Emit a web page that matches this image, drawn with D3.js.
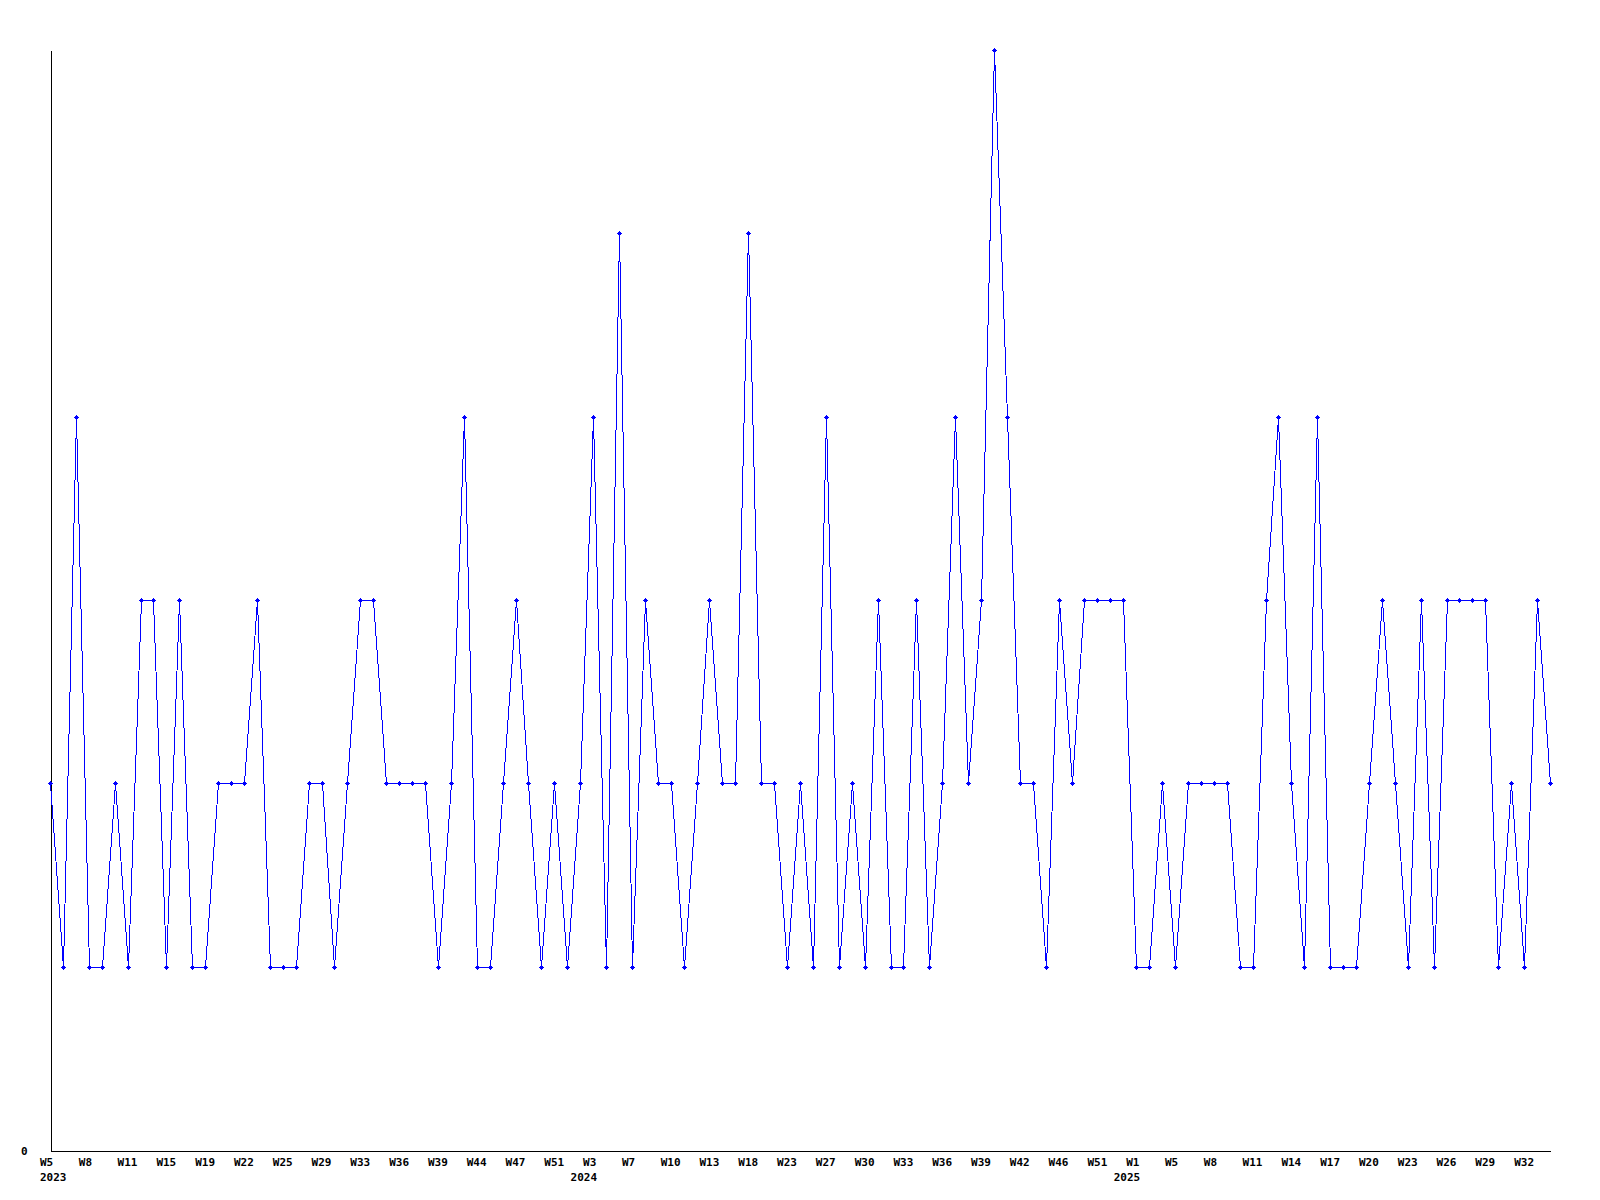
<!DOCTYPE html>
<html>
<head>
<meta charset="utf-8">
<script src="https://cdn.jsdelivr.net/npm/d3@7"></script>
<style>
  html, body { margin: 0; padding: 0; background: #fff; }
  svg { display: block; }
  text { font-family: "DejaVu Sans Mono", "Liberation Mono", monospace; font-weight: bold; font-size: 11px; fill: #000; }
</style>
</head>
<body>
<svg id="chart" width="1600" height="1200"></svg>
<script>
// ---- data ----
const values = [
  2,1,4,1,1,2,1,3,3,1,
  3,1,1,2,2,2,3,1,1,1,
  2,2,1,2,3,3,2,2,2,2,
  1,2,4,1,1,2,3,2,1,2,
  1,2,4,1,5,1,3,2,2,1,
  2,3,2,2,5,2,2,1,2,1,
  4,1,2,1,3,1,1,3,1,2,
  4,2,3,6,4,2,2,1,3,2,
  3,3,3,3,1,1,2,1,2,2,
  2,2,1,1,3,4,2,1,4,1,
  1,1,2,3,2,1,3,1,3,3,
  3,3,1,2,1,3,2
];
// week label for every 3rd point
const weekLabels = [
  "W5","W8","W11","W15","W19","W22","W25","W29","W33","W36",
  "W39","W44","W47","W51","W3","W7","W10","W13","W18","W23",
  "W27","W30","W33","W36","W39","W42","W46","W51","W1","W5",
  "W8","W11","W14","W17","W20","W23","W26","W29","W32"
];
const yearLabels = ["2023","2024","2025"];
const yearPoints = [0, 42, 84];
const yTicks = [0];

// ---- chart ----
const svg = d3.select("#chart");
const idx = d3.range(values.length);
const x = d3.scalePoint().domain(idx).range([50, 1550]);
const y = d3.scaleLinear().domain([0, 6]).range([1150, 50]);

// axes
const xAxis = d3.axisBottom(x)
  .tickValues(idx.filter(i => i % 3 === 0))
  .tickFormat(i => weekLabels[i / 3])
  .tickSize(0).tickSizeOuter(0);
const gx = svg.append("g").attr("transform", "translate(0.5,1150.5)").call(xAxis);
gx.select(".domain").attr("stroke", "#000").attr("shape-rendering", "crispEdges");
gx.selectAll(".tick text")
  .attr("text-anchor", "start")
  .attr("x", -11)
  .attr("y", 15.5)
  .attr("dy", null)
  .style("font-family", "'DejaVu Sans Mono', monospace")
  .style("font-weight", "bold")
  .style("font-size", "11px")
  .attr("fill", "#000");

const yAxis = d3.axisLeft(y).tickValues(yTicks).tickFormat(d3.format("d")).tickSize(0).tickSizeOuter(0);
const gy = svg.append("g").attr("transform", "translate(50.5,0.5)").call(yAxis);
gy.select(".domain").attr("stroke", "#000").attr("shape-rendering", "crispEdges");
gy.selectAll(".tick text")
  .attr("text-anchor", "end")
  .attr("x", -23)
  .attr("y", 3.5)
  .attr("dy", null)
  .style("font-family", "'DejaVu Sans Mono', monospace")
  .style("font-weight", "bold")
  .style("font-size", "11px")
  .attr("fill", "#000");

// year labels
svg.append("g").selectAll("text").data(yearLabels).join("text")
  .attr("x", (d, i) => i === 0 ? x(yearPoints[i]) - 10 : x(yearPoints[i]) + 4)
  .attr("y", 1181)
  .attr("text-anchor", (d, i) => i === 0 ? "start" : "end")
  .text(d => d);

// line
const line = d3.line().x(i => Math.round(x(i)) + 0.5).y(i => Math.round(y(values[i])) + 0.5);
svg.append("path")
  .datum(idx)
  .attr("d", line)
  .attr("fill", "none")
  .attr("stroke", "#0000ff")
  .attr("stroke-width", 1)
  .attr("shape-rendering", "crispEdges");

// markers
const mk = svg.append("g").attr("fill", "#0000ff").attr("shape-rendering", "crispEdges");
mk.selectAll("rect.c").data(idx).join("rect").attr("class", "c")
  .attr("x", i => Math.round(x(i)) - 1).attr("y", i => Math.round(y(values[i])) - 1)
  .attr("width", 3).attr("height", 3);
mk.selectAll("rect.h").data(idx).join("rect").attr("class", "h")
  .attr("x", i => Math.round(x(i)) - 2).attr("y", i => Math.round(y(values[i])))
  .attr("width", 5).attr("height", 1);
mk.selectAll("rect.v").data(idx).join("rect").attr("class", "v")
  .attr("x", i => Math.round(x(i))).attr("y", i => Math.round(y(values[i])) - 2)
  .attr("width", 1).attr("height", 5);
</script>
</body>
</html>
